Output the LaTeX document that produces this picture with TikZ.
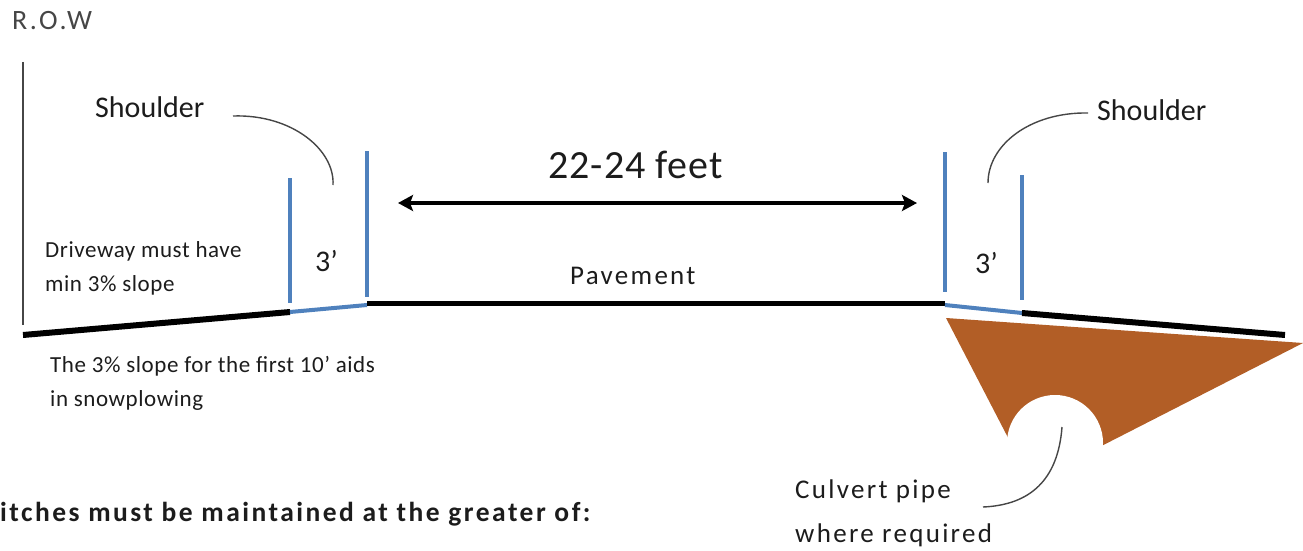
\documentclass[tikz,border=0pt]{standalone}
\usepackage{fontspec}
\setmainfont{Carlito}
\newfontfamily\tightsp[LetterSpace=2.5]{Carlito}
\newfontfamily\widesp[LetterSpace=8.5]{Carlito}
\newfontfamily\boldsp[LetterSpace=9]{Carlito Bold}
\usetikzlibrary{arrows.meta}
\definecolor{roadblue}{RGB}{79,129,189}
\definecolor{soil}{RGB}{178,94,38}
\definecolor{ink}{RGB}{28,28,28}
\definecolor{rowgray}{RGB}{70,70,70}
\begin{document}
\begin{tikzpicture}[x=1pt,y=-1pt,
  lbl/.style={anchor=base west, inner sep=0pt, text=ink},
  fsmall/.style={font=\tightsp\fontsize{23}{27}\selectfont},
  fmid/.style={font=\widesp\fontsize{27}{32}\selectfont},
  fshoulder/.style={font=\fontsize{30}{35}\selectfont},
  fbig/.style={font=\tightsp\fontsize{40}{46}\selectfont},
  ground/.style={line width=6pt, black},
  pave/.style={line width=5pt, black},
  shoulderline/.style={line width=4pt, roadblue},
  leader/.style={line width=1.4pt, rowgray},
  dimarrow/.style={line width=4pt, black, {Stealth[length=15pt,width=16pt,inset=3pt]}-{Stealth[length=15pt,width=16pt,inset=3pt]}}
]
\useasboundingbox (0,0) rectangle (1303,551);

% ground profile coordinates
\coordinate (rowtop) at (23,62);
\coordinate (rowbot) at (23,325);
\coordinate (gl) at (23,335);
\coordinate (sl1) at (290,312);
\coordinate (sl2) at (367,305);
\coordinate (pl) at (367,303);
\coordinate (pr) at (945,303);
\coordinate (sr1) at (945,305);
\coordinate (sr2) at (1022,313);
\coordinate (gr) at (1285,335);

% culvert fill
\fill[soil] (946,318) -- (1303,343) -- (1031,482) -- cycle;
\fill[white] (1055,443) circle[radius=48pt];

% R.O.W line
\draw[line width=2pt, rowgray] (rowtop) -- (rowbot);

% ground
\draw[ground] (gl) -- (sl1);
\draw[line width=4pt, roadblue] (sl1) -- (sl2);
\draw[pave] (pl) -- (pr);
\draw[line width=4pt, roadblue] (sr1) -- (sr2);
\draw[ground] (sr2) -- (gr);

% shoulder verticals
\draw[shoulderline] (290,178) -- (290,303);
\draw[shoulderline] (367,151) -- (367,297);
\draw[shoulderline] (945,152) -- (945,292);
\draw[shoulderline] (1022,175) -- (1022,300);

% texts
\node[lbl, font=\widesp\fontsize{28}{32}\selectfont, text=rowgray] (row) at (12,30) {R.O.W};
\node[lbl, fshoulder] (shL) at (95,117) {Shoulder};
\node[lbl, fshoulder] (shR) at (1097,120) {Shoulder};
\node[lbl, fbig] (width) at (548,178) {22-24 feet};
\node[lbl, fmid] (pavement) at (570,284) {Pavement};
\node[lbl, fshoulder] (threeL) at (315,271) {3’};
\node[lbl, fshoulder] (threeR) at (975,273) {3’};
\node[lbl, fsmall] (drive1) at (45,257) {Driveway must have};
\node[lbl, fsmall] (drive2) at (45,291) {min 3\% slope};
\node[lbl, fsmall] (snow1) at (50,372) {The 3\% slope for the first 10’ aids};
\node[lbl, fsmall] (snow2) at (50,406) {in snowplowing};
\node[lbl, fmid] (culv1) at (795,498) {Culvert pipe};
\node[lbl, fmid] (culv2) at (795,542) {where required};
\node[lbl, font=\boldsp\fontsize{27.5}{32}\selectfont] (ditch) at (0,521) {itches must be maintained at the greater of:};

% dimension arrow
\coordinate (aL) at (398,203);
\coordinate (aR) at (917,203);
\draw[dimarrow] (aL) -- (aR);

% leaders
\coordinate (shLstart) at (233,116);
\coordinate (shLend) at (333,185);
\coordinate (shRstart) at (1088,113);
\coordinate (shRend) at (988,183);
\coordinate (culvStart) at (1062,427);
\coordinate (culvEnd) at (983,507);
\draw[leader] (shLstart) .. controls (292,114) and (335,150) .. (shLend);
\draw[leader] (shRstart) .. controls (1030,112) and (988,145) .. (shRend);
\draw[leader] (culvStart) .. controls (1058,480) and (1030,505) .. (culvEnd);
\end{tikzpicture}
\end{document}
